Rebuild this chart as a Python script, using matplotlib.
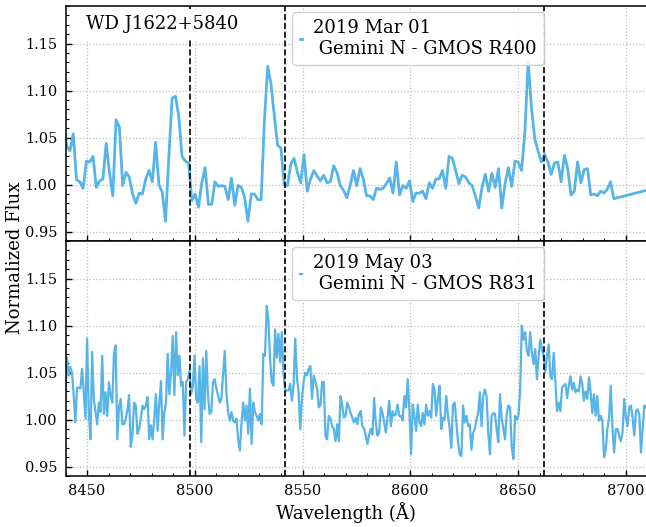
#!/usr/bin/env python3
"""
Ca II triplet region of WD J1622+5840: GMOS R400 and R831 spectra
"""

import matplotlib
matplotlib.use('Agg')
import matplotlib.pyplot as plt
import numpy as np
from matplotlib.ticker import MultipleLocator, FormatStrFormatter

# 2019 Mar 01, GMOS R400: first pixel wavelength, dispersion (A/pix), normalized flux
r400_start = 8439.0
r400_step = 1.53
r400_flux = [
    1.068,
    1.041, 1.036, 1.054, 1.005, 1.003, 0.996, 1.025, 1.024, 1.030, 0.997,
    1.004, 1.006, 1.044, 1.013, 0.988, 1.069, 1.061, 0.999, 1.013, 1.008,
    0.990, 0.980, 0.991, 0.990, 1.006, 1.015, 1.003, 1.045, 1.000, 0.992,
    0.961, 1.030, 1.092, 1.094, 1.073, 1.030, 1.025, 1.023, 0.983, 0.990,
    0.976, 1.002, 1.018, 0.979, 0.979, 1.003, 0.998, 0.999, 0.998, 0.984,
    1.007, 0.978, 0.999, 0.997, 0.986, 0.961, 0.990, 0.990, 0.984,
    0.984, 1.069, 1.126, 1.107, 1.073, 1.042, 1.039, 1.000, 0.999, 1.022,
    1.028, 1.013, 1.002, 1.032, 0.993, 1.006, 1.015, 1.009, 1.004, 1.010,
    1.002, 1.003, 1.020, 1.013, 0.999, 0.994, 0.986, 0.999, 1.015, 0.999,
    1.017, 1.006, 0.988, 0.988, 0.984, 0.996, 0.995, 0.996, 1.001, 1.007,
    0.991, 1.024, 0.989, 0.999, 0.996, 1.004, 0.982, 0.991, 0.991, 0.993,
    0.985, 1.002, 0.996, 1.006, 1.006, 1.015, 0.996, 1.030,
    1.028, 1.015, 1.001, 1.010, 1.008, 1.002, 0.999, 0.988, 0.975, 0.997,
    1.011, 0.993, 1.012, 0.997, 1.017, 0.975, 1.001, 1.018, 0.998, 1.025,
    1.024, 1.015, 1.055, 1.132, 1.082, 1.049, 1.036, 1.024, 1.032, 1.024,
    1.011, 1.023, 1.024, 1.003, 1.031, 1.017, 0.989, 0.993, 1.024, 1.002,
    1.016, 1.017, 0.989, 0.990, 0.988, 0.993, 0.991, 0.995, 1.003, 0.985,
]
# first pixel after the chip gap
r400_gap_wave = [8720.0]
r400_gap_flux = [1.000]

# 2019 May 03, GMOS R831
r831_start = 8439.9
r831_step = 0.779
r831_flux = [
    1.022, 1.066, 1.047, 1.056, 1.050, 1.026, 0.997, 1.034,
    1.034, 1.033, 1.054, 1.029, 1.001, 1.086, 1.008, 0.979, 1.072, 1.022,
    1.008, 0.995, 1.018, 1.008, 1.068, 1.006, 1.029, 1.004, 1.040, 1.026,
    1.018, 1.070, 1.079, 0.979, 1.013, 1.022, 0.995, 0.995, 1.001, 1.010,
    1.026, 0.971, 0.983, 1.018, 1.015, 0.985, 0.990, 1.001, 1.015, 1.011,
    1.015, 1.024, 0.979, 0.994, 0.979, 1.001, 1.027, 0.988, 1.017, 1.041,
    0.979, 1.008, 1.018, 1.070, 1.027, 1.050, 1.089, 1.026, 1.093, 1.047,
    1.068, 1.036, 1.040, 0.983, 1.040, 1.043, 1.052, 1.027, 1.036, 1.068,
    1.022, 1.018, 1.057, 0.976, 1.065, 1.011, 1.073, 1.026, 1.006, 1.008,
    1.040, 1.043, 1.033, 1.026, 1.018, 1.022, 1.047, 1.073, 1.029, 1.008,
    0.999, 1.008, 0.999, 0.997, 1.001, 0.979, 0.967, 0.997, 1.018, 0.999,
    1.015, 0.985, 1.033, 0.974, 1.018, 1.008, 1.004, 0.999, 1.006, 0.995,
    1.070, 1.068, 1.121, 1.107, 1.065, 1.040, 1.036, 1.096, 1.066, 1.091,
    1.061, 1.093, 1.050, 1.031, 1.031, 1.031, 1.038, 1.020, 1.036, 1.086,
    1.045, 1.029, 0.990, 1.022, 1.040, 1.050, 1.047, 1.054, 1.057, 1.022,
    1.047, 1.040, 1.033, 1.013, 1.015, 1.040, 1.040, 0.983, 0.979, 1.004,
    1.001,
    0.993, 0.990, 0.977, 0.995, 0.977,
    1.025, 1.015, 1.002, 1.004, 1.018, 1.013, 1.007, 1.002, 0.997, 1.002,
    0.995, 1.006, 1.009, 0.993, 0.991, 0.983, 0.974, 0.984, 0.990, 0.984,
    1.023, 0.997, 0.983, 0.986, 1.013, 1.007, 0.997, 0.986, 1.002, 1.020,
    0.993, 1.009, 1.004, 1.006, 1.016, 1.004, 1.004, 0.999, 1.025, 1.013,
    1.043, 1.011, 0.963, 1.016,
    1.004, 0.988, 1.016, 0.997, 0.993, 1.007, 0.995, 1.016, 1.004, 1.009,
    1.002, 1.038, 1.032, 1.004, 1.022, 1.036, 0.990, 1.002, 1.000, 1.025,
    1.004, 0.991, 0.970, 1.016, 1.018, 0.997, 0.976, 0.963, 0.961, 1.015,
    0.997, 1.004, 0.993, 0.995, 0.968, 0.986, 0.990, 1.000, 1.007, 1.029,
    0.993, 1.025, 1.032, 1.025, 0.986,
    0.963, 1.004, 1.007, 1.006, 0.990, 0.976, 1.027, 1.002, 0.990, 0.979,
    1.007, 1.015, 1.013, 0.970, 0.958, 1.004, 1.000, 1.004, 1.032, 1.100,
    1.085, 1.093, 1.073, 1.068, 1.093, 1.071, 1.059, 1.075, 1.043, 1.068,
    1.085, 1.075, 1.068, 1.050, 1.068, 1.080, 1.046, 1.043, 1.071, 1.039,
    1.009, 1.018, 1.009, 1.034, 1.036, 1.038, 1.023, 1.036, 1.046, 1.032,
    1.039, 1.029, 1.032, 1.030, 1.046, 1.038, 1.020, 1.030, 1.022, 1.045,
    1.029, 1.007, 1.027, 1.004, 1.025, 0.999, 1.004, 0.999, 0.960, 0.968,
    0.990, 1.002, 1.036, 0.991, 0.965, 0.990, 0.990, 0.983, 0.977, 0.986,
    1.022, 1.002, 0.993, 1.013, 1.015, 1.002, 0.983, 1.009, 1.011, 1.006,
    0.965, 0.990, 1.015, 1.013,
]

# Ca II triplet rest wavelengths
ca_lines = [8498.0, 8542.1, 8662.1]

panel_labels = ['2019 Mar 01\n Gemini N - GMOS R400',
                '2019 May 03\n Gemini N - GMOS R831']
object_name = 'WD J1622+5840'

plt.rcParams['font.family'] = ['DejaVu Serif']
plt.rcParams['mathtext.fontset'] = 'dejavuserif'

line_color = '#56B4E9'

r400_wave = np.concatenate([r400_start + r400_step * np.arange(len(r400_flux)), r400_gap_wave])
r400_all = np.concatenate([r400_flux, r400_gap_flux])
r831_wave = r831_start + r831_step * np.arange(len(r831_flux))

fig = plt.figure(figsize=(6.46, 5.27), dpi=100)
# right edge sits just past the figure border
ax1 = fig.add_axes([0.1014, 0.5427, 0.9005, 0.4459])
ax2 = fig.add_axes([0.1014, 0.0968, 0.9005, 0.4459], sharex=ax1)

ax1.plot(r400_wave, r400_all, color=line_color, lw=2.0, label=panel_labels[0])
ax2.plot(r831_wave, r831_flux, color=line_color, lw=1.6, label=panel_labels[1])

for ax in (ax1, ax2):
    for w in ca_lines:
        ax.axvline(w, color='k', ls='--', lw=1.2, zorder=3)
    ax.grid(True, linestyle=':', color='0.75', linewidth=0.9)
    ax.set_ylim(0.94, 1.19)
    ax.xaxis.set_major_locator(MultipleLocator(50))
    ax.xaxis.set_minor_locator(MultipleLocator(10))
    ax.yaxis.set_major_locator(MultipleLocator(0.05))
    ax.yaxis.set_minor_locator(MultipleLocator(0.01))
    ax.yaxis.set_major_formatter(FormatStrFormatter('%.2f'))
    ax.tick_params(which='both', direction='in', top=False, right=False,
                   labelsize=10.5)
    ax.tick_params(which='major', length=4, width=1, pad=6)
    ax.tick_params(which='minor', length=2.3, width=0.8)
    for sp in ax.spines.values():
        sp.set_linewidth(1.1)
    ax.legend(loc='upper left', bbox_to_anchor=(0.39, 0.974), borderaxespad=0,
              handlelength=0.15, handletextpad=0.6, fontsize=13,
              edgecolor='0.8', framealpha=0.9)

ax1.set_xlim(8440, 8710)
ax1.tick_params(labelbottom=False)

ax1.text(0.035, 0.901, object_name, transform=ax1.transAxes, fontsize=13,
         va='baseline', zorder=5,
         bbox=dict(boxstyle='square,pad=0.35', facecolor='white', edgecolor='none'))

fig.text(0.0232, 0.51, 'Normalized Flux', rotation=90, ha='center', va='center', fontsize=13)
fig.text(0.5356, 0.0266, 'Wavelength (Å)', ha='center', va='center', fontsize=13)

fig.savefig('out.png', dpi=100)
plt.close(fig)
